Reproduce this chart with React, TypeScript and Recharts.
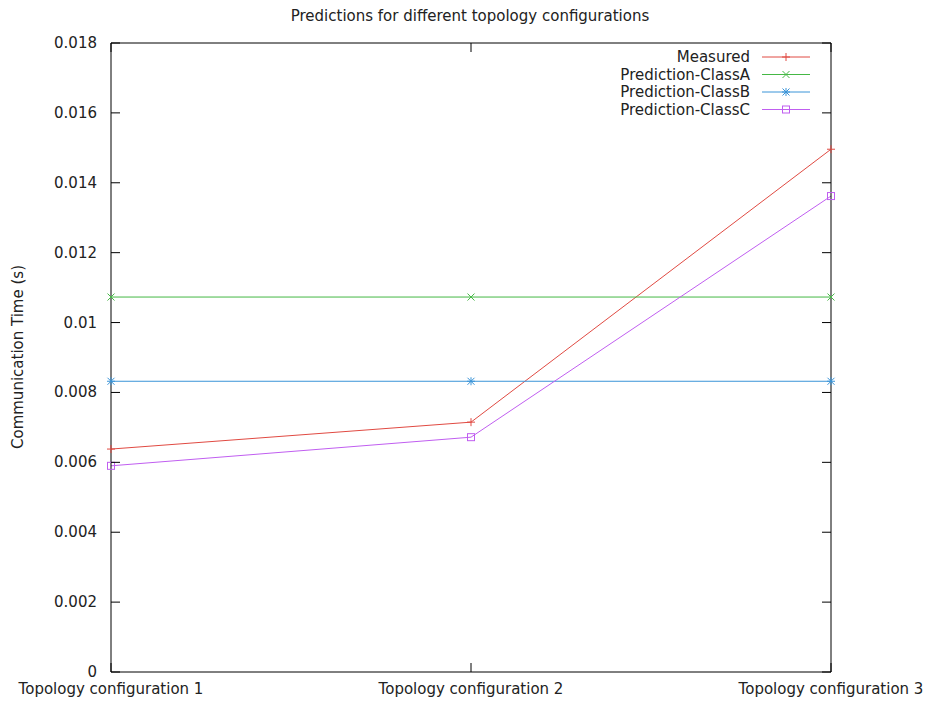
import { LineChart, Line, XAxis, YAxis } from 'recharts';

const categories = ['Topology configuration 1', 'Topology configuration 2', 'Topology configuration 3'];
const measured = [0.00638, 0.00715, 0.01496];
const classA = [0.01073, 0.01073, 0.01073];
const classB = [0.00832, 0.00832, 0.00832];
const classC = [0.0059, 0.00672, 0.01362];
const yTicks = [0, 0.002, 0.004, 0.006, 0.008, 0.01, 0.012, 0.014, 0.016, 0.018];

const data = categories.map((name, i) => ({
  name,
  measured: measured[i],
  classA: classA[i],
  classB: classB[i],
  classC: classC[i],
}));

const FONT = '"DejaVu Sans", sans-serif';
const FS = 15;
const TICK_LEN = 9;

type MarkerKind = 'plus' | 'cross' | 'star' | 'square';

function Marker({ kind, cx, cy, color }: { kind: MarkerKind; cx: number; cy: number; color: string }) {
  const s = 4;
  const d = 3.5;
  if (kind === 'square') {
    return <rect x={cx - 3.5} y={cy - 3.5} width={7} height={7} fill="none" stroke={color} strokeWidth={1} />;
  }
  return (
    <g stroke={color} strokeWidth={1}>
      {(kind === 'plus' || kind === 'star') && (
        <>
          <line x1={cx - s} y1={cy} x2={cx + s} y2={cy} />
          <line x1={cx} y1={cy - s} x2={cx} y2={cy + s} />
        </>
      )}
      {(kind === 'cross' || kind === 'star') && (
        <>
          <line x1={cx - d} y1={cy - d} x2={cx + d} y2={cy + d} />
          <line x1={cx - d} y1={cy + d} x2={cx + d} y2={cy - d} />
        </>
      )}
    </g>
  );
}

const series: { key: string; label: string; color: string; marker: MarkerKind }[] = [
  { key: 'measured', label: 'Measured', color: '#e04a42', marker: 'plus' },
  { key: 'classA', label: 'Prediction-ClassA', color: '#45b845', marker: 'cross' },
  { key: 'classB', label: 'Prediction-ClassB', color: '#3a94d8', marker: 'star' },
  { key: 'classC', label: 'Prediction-ClassC', color: '#c05ef0', marker: 'square' },
];

const formatY = (v: number) => (v === 0 ? '0' : String(Number(v.toFixed(3))));

// gnuplot-style inward ticks
const LeftTick = (props: any) => {
  const { x, y, payload } = props;
  return (
    <g>
      <line x1={x} y1={y} x2={x + TICK_LEN} y2={y} stroke="#000" />
      <text x={x - 14} y={y + 5} textAnchor="end" fontFamily={FONT} fontSize={FS} fill="#222">
        {formatY(payload.value)}
      </text>
    </g>
  );
};

const RightTick = (props: any) => {
  const { x, y } = props;
  return <line x1={x} y1={y} x2={x - TICK_LEN} y2={y} stroke="#000" />;
};

const BottomTick = (props: any) => {
  const { x, y, payload } = props;
  return (
    <g>
      <line x1={x} y1={y} x2={x} y2={y - TICK_LEN} stroke="#000" />
      <text x={x} y={y + 22} textAnchor="middle" fontFamily={FONT} fontSize={FS} fill="#222">
        {payload.value}
      </text>
    </g>
  );
};

const TopTick = (props: any) => {
  const { x, y } = props;
  return <line x1={x} y1={y} x2={x} y2={y + TICK_LEN} stroke="#000" />;
};

export default function App() {
  return (
    <div style={{ position: 'absolute', left: 0, top: 0, width: 925, height: 702, background: '#fff' }}>
      <LineChart
        width={925}
        height={702}
        data={data}
        margin={{ top: 42, right: 93, bottom: 29, left: 110 }}
      >
        <XAxis
          dataKey="name"
          xAxisId="bottom"
          scale="point"
          padding={{ left: 0, right: 0 }}
          height={1}
          interval={0}
          tickSize={0}
          tickMargin={0}
          tick={<BottomTick />}
          axisLine={{ stroke: '#000' }}
        />
        <XAxis
          dataKey="name"
          xAxisId="top"
          orientation="top"
          scale="point"
          padding={{ left: 0, right: 0 }}
          height={1}
          interval={0}
          tickSize={0}
          tickMargin={0}
          tick={<TopTick />}
          axisLine={{ stroke: '#000' }}
        />
        <YAxis
          yAxisId="left"
          type="number"
          width={1}
          domain={[0, 0.018]}
          allowDataOverflow
          ticks={yTicks}
          interval={0}
          tickSize={0}
          tickMargin={0}
          tick={<LeftTick />}
          axisLine={{ stroke: '#000' }}
        />
        <YAxis
          yAxisId="right"
          type="number"
          orientation="right"
          width={1}
          domain={[0, 0.018]}
          allowDataOverflow
          ticks={yTicks}
          interval={0}
          tickSize={0}
          tickMargin={0}
          tick={<RightTick />}
          axisLine={{ stroke: '#000' }}
        />
        {series.map((s) => (
          <Line
            key={s.key}
            xAxisId="bottom"
            yAxisId="left"
            dataKey={s.key}
            name={s.label}
            type="linear"
            stroke={s.color}
            strokeWidth={1}
            isAnimationActive={false}
            activeDot={false}
            dot={(p: any) => <Marker key={`${s.key}-${p.index}`} kind={s.marker} cx={p.cx} cy={p.cy} color={s.color} />}
          />
        ))}
      </LineChart>
      <svg
        width={925}
        height={702}
        style={{ position: 'absolute', left: 0, top: 0, pointerEvents: 'none' }}
      >
        <text x={470} y={21} textAnchor="middle" fontFamily={FONT} fontSize={FS} fill="#222">
          Predictions for different topology configurations
        </text>
        <text
          x={23}
          y={357}
          textAnchor="middle"
          fontFamily={FONT}
          fontSize={FS}
          fill="#222"
          transform="rotate(-90 23 357)"
        >
          Communication Time (s)
        </text>
        {/* key */}
        {series.map((s, i) => {
          const cy = 57 + i * 17.5;
          return (
            <g key={s.key}>
              <text x={750} y={cy + 5} textAnchor="end" fontFamily={FONT} fontSize={FS} fill="#222">
                {s.label}
              </text>
              <line x1={762} y1={cy} x2={810} y2={cy} stroke={s.color} strokeWidth={1} />
              <Marker kind={s.marker} cx={786} cy={cy} color={s.color} />
            </g>
          );
        })}
      </svg>
    </div>
  );
}
